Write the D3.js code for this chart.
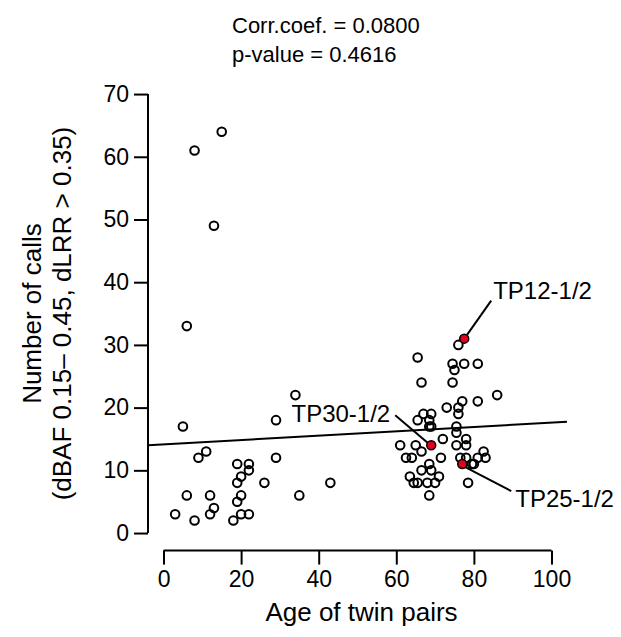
<!DOCTYPE html>
<html>
<head>
<meta charset="utf-8">
<script src="https://cdn.jsdelivr.net/npm/d3@7"></script>
<style>
  body { margin: 0; background: #fff; }
  text { font-family: "Liberation Sans", Arial, sans-serif; fill: #000; }
</style>
</head>
<body>
<div id="chart"></div>
<script>
// age of twin pair, number of calls
const pairs = [
  [3, 3], [5, 17], [6, 6], [6, 33], [8, 2], [8, 61], [9, 12], [11, 13], [12, 6], [12, 3],
  [13, 4], [13, 49], [15, 64], [18, 2], [19, 11], [19, 8], [19, 5], [20, 9], [20, 6], [20, 3],
  [22, 11], [22, 10], [22, 3], [26, 8], [29, 18], [29, 12], [34, 22], [35, 6], [43, 8],
  [76, 30], [65.5, 28], [74.5, 27], [77.5, 27], [81, 27], [75, 26], [66.5, 24], [74.5, 24],
  [86, 22], [77, 21], [81, 21], [73, 20], [76, 20], [76, 19], [67, 19], [69, 19],
  [65.5, 18], [68.5, 18], [68.5, 17], [69, 17], [75.5, 17], [75.5, 16],
  [72, 15], [75.5, 14], [78, 15], [78, 14], [61, 14], [65, 14], [66.5, 13],
  [62.5, 12], [64, 12], [71.5, 12], [76.5, 12], [78, 12],
  [81, 12], [82.5, 13], [83, 12], [80, 11], [79.5, 11], [68.5, 11],
  [66.5, 10], [69, 10], [63.5, 9], [71, 9],
  [64.5, 8], [65.5, 8], [68, 8], [70, 8], [78.5, 8], [68.5, 6]
];

// highlighted pairs
const highlighted = [
  { name: "TP12-1/2", age: 77.5, calls: 31 },
  { name: "TP30-1/2", age: 69, calls: 14 },
  { name: "TP25-1/2", age: 77, calls: 11 }
];

const xTicks = [0, 20, 40, 60, 80, 100];
const yTicks = [0, 10, 20, 30, 40, 50, 60, 70];

// fitted line
const fitIntercept = 14.15;
const fitSlope = 0.0346;

const statLines = ["Corr.coef. = 0.0800", "p-value = 0.4616"];

const width = 621, height = 637;
const tickFont = 23, titleFont = 26, statFont = 22, labelFont = 24;

const svg = d3.select("#chart").append("svg")
  .attr("width", width)
  .attr("height", height);

const x = d3.scaleLinear().domain([-4, 104]).range([148, 567]);
const y = d3.scaleLinear().domain([-2.8, 72.8]).range([550.6, 76.5]);

// y axis
const yAxis = svg.append("g")
  .attr("transform", `translate(${x(-4)},0)`)
  .call(d3.axisLeft(y).tickValues(yTicks).tickSize(14).tickPadding(5));
yAxis.select(".domain").remove();
yAxis.selectAll("line").attr("stroke", "#000").attr("stroke-width", 2);
yAxis.selectAll("text").style("font-size", tickFont + "px").attr("font-family", null);
yAxis.append("line")
  .attr("y1", y(0)).attr("y2", y(70))
  .attr("stroke", "#000").attr("stroke-width", 2);

// x axis
const xAxis = svg.append("g")
  .attr("transform", `translate(0,${y(-2.8)})`)
  .call(d3.axisBottom(x).tickValues(xTicks).tickSize(14).tickPadding(6));
xAxis.select(".domain").remove();
xAxis.selectAll("line").attr("stroke", "#000").attr("stroke-width", 2);
xAxis.selectAll("text").style("font-size", tickFont + "px").attr("font-family", null);
xAxis.append("line")
  .attr("x1", x(0)).attr("x2", x(100))
  .attr("stroke", "#000").attr("stroke-width", 2);

// axis titles
svg.append("text")
  .attr("x", (x(-4) + x(104)) / 2 + 4)
  .attr("y", 621)
  .attr("text-anchor", "middle")
  .style("font-size", titleFont + "px")
  .text("Age of twin pairs");

const yTitle = svg.append("text")
  .attr("transform", `translate(0,${(y(-2.8) + y(72.8)) / 2}) rotate(-90)`)
  .attr("text-anchor", "middle")
  .style("font-size", titleFont + "px");
yTitle.append("tspan").attr("x", 0).attr("y", 41).text("Number of calls");
yTitle.append("tspan").attr("x", 0).attr("y", 71).text("(dBAF 0.15\u2013 0.45, dLRR > 0.35)");

// stats
svg.selectAll(".stat")
  .data(statLines)
  .join("text")
  .attr("class", "stat")
  .attr("x", 232)
  .attr("y", (d, i) => 33 + i * 29)
  .style("font-size", statFont + "px")
  .text(d => d);

// regression line
svg.append("line")
  .attr("x1", x(-4)).attr("y1", y(fitIntercept + fitSlope * -4))
  .attr("x2", x(104)).attr("y2", y(fitIntercept + fitSlope * 104))
  .attr("stroke", "#000").attr("stroke-width", 2);

// points
svg.append("g").selectAll("circle")
  .data(pairs)
  .join("circle")
  .attr("cx", d => x(d[0]))
  .attr("cy", d => y(d[1]))
  .attr("r", 4.3)
  .attr("fill", "none")
  .attr("stroke", "#000")
  .attr("stroke-width", 2);

// label placement: leader start, leader end and text position (px relative to point)
const labelLayout = {
  "TP12-1/2": { lx1: 3, ly1: -4, lx2: 27, ly2: -38, tx: 29, ty: -40, anchor: "start" },
  "TP30-1/2": { lx1: -3, ly1: -2, lx2: -36, ly2: -30, tx: -41, ty: -23, anchor: "end" },
  "TP25-1/2": { lx1: 3, ly1: 3, lx2: 49, ly2: 27, tx: 53, ty: 43, anchor: "start" }
};

const hl = svg.append("g").selectAll("g")
  .data(highlighted)
  .join("g")
  .attr("transform", d => `translate(${x(d.age)},${y(d.calls)})`);

hl.append("line")
  .attr("x1", d => labelLayout[d.name].lx1)
  .attr("y1", d => labelLayout[d.name].ly1)
  .attr("x2", d => labelLayout[d.name].lx2)
  .attr("y2", d => labelLayout[d.name].ly2)
  .attr("stroke", "#000").attr("stroke-width", 2);

hl.append("circle")
  .attr("r", 4.5)
  .attr("fill", "#e3001b")
  .attr("stroke", "#000")
  .attr("stroke-width", 1.5);

hl.append("text")
  .attr("x", d => labelLayout[d.name].tx)
  .attr("y", d => labelLayout[d.name].ty)
  .attr("text-anchor", d => labelLayout[d.name].anchor)
  .style("font-size", labelFont + "px")
  .text(d => d.name);
</script>
</body>
</html>
